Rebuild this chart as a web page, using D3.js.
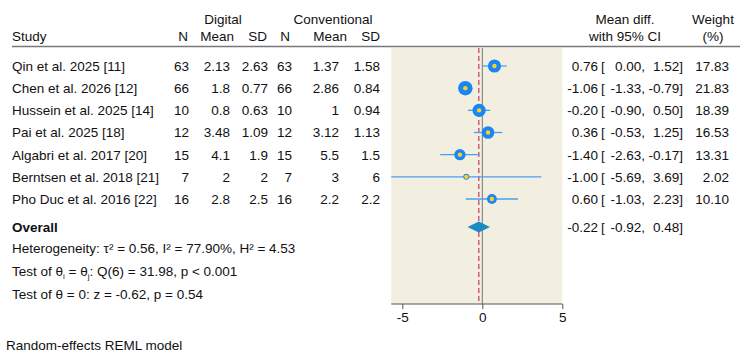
<!DOCTYPE html>
<html>
<head>
<meta charset="utf-8">
<script src="https://cdn.jsdelivr.net/npm/d3@7"></script>
<style>
  body { margin: 0; background: #fff; }
  svg text { font-family: "Liberation Sans", Arial, Helvetica, sans-serif; font-size: 13.5px; fill: #111; }
</style>
</head>
<body>
<svg id="chart" width="750" height="356"></svg>
<script>
  // study data
  var studies = ['Qin et al. 2025 [11]', 'Chen et al. 2026 [12]', 'Hussein et al. 2025 [14]',
    'Pai et al. 2025 [18]', 'Algabri et al. 2017 [20]', 'Berntsen et al. 2018 [21]', 'Pho Duc et al. 2016 [22]'];
  var digN = [63, 66, 10, 12, 15, 7, 16];
  var digMean = ['2.13', '1.8', '0.8', '3.48', '4.1', '2', '2.8'];
  var digSD = ['2.63', '0.77', '0.63', '1.09', '1.9', '2', '2.5'];
  var conN = [63, 66, 10, 12, 15, 7, 16];
  var conMean = ['1.37', '2.86', '1', '3.12', '5.5', '3', '2.2'];
  var conSD = ['1.58', '0.84', '0.94', '1.13', '1.5', '6', '2.2'];
  var meanDiff = [0.76, -1.06, -0.20, 0.36, -1.40, -1.00, 0.60];
  var ciLow = [0.00, -1.33, -0.90, -0.53, -2.63, -5.69, -1.03];
  var ciHigh = [1.52, -0.79, 0.50, 1.25, -0.17, 3.69, 2.23];
  var weights = [17.83, 21.83, 18.39, 16.53, 13.31, 2.02, 10.10];

  var overall = [-0.22, -0.92, 0.48];
  var xTicks = [-5, 0, 5];
  var statLines = ['Heterogeneity: \u03c4\u00b2 = 0.56, I\u00b2 = 77.90%, H\u00b2 = 4.53',
    'Q', 'Test of \u03b8 = 0: z = -0.62, p = 0.54'];

  var svg = d3.select('#chart');
  // plain hyphen for negatives, like the original
  var f2 = function (v) { return v.toFixed(2); };

  var x = d3.scaleLinear().domain([-5, 5]).range([402.3, 562.3]);
  var y = d3.scaleLinear().domain([0, studies.length - 1]).range([66, 199]);
  var r = d3.scaleSqrt().domain([0, 25]).range([0, 7.75]);

  var panelTop = 48, axisY = 304;
  var overallY = 227;

  // background panel
  svg.append('rect')
    .attr('x', x(d3.min(ciLow)))
    .attr('y', panelTop)
    .attr('width', x(5) - x(d3.min(ciLow)))
    .attr('height', axisY - panelTop)
    .attr('fill', '#f2efe1');

  // header
  var head = svg.append('g');
  head.append('text').attr('x', 223).attr('y', 24).attr('text-anchor', 'middle').text('Digital');
  head.append('text').attr('x', 333).attr('y', 24).attr('text-anchor', 'middle').text('Conventional');
  head.append('text').attr('x', 12).attr('y', 41).text('Study');
  var headX = [188, 234, 267, 290, 347, 380];
  ['N', 'Mean', 'SD', 'N', 'Mean', 'SD'].forEach(function (h, i) {
    head.append('text').attr('x', headX[i]).attr('y', 41).attr('text-anchor', 'end').text(h);
  });
  head.append('text').attr('x', 625).attr('y', 24).attr('text-anchor', 'middle').text('Mean diff.');
  head.append('text').attr('x', 625).attr('y', 41).attr('text-anchor', 'middle').text('with 95% CI');
  head.append('text').attr('x', 713).attr('y', 24).attr('text-anchor', 'middle').text('Weight');
  head.append('text').attr('x', 713).attr('y', 41).attr('text-anchor', 'middle').text('(%)');

  svg.append('line')
    .attr('x1', 12).attr('x2', 740).attr('y1', 46.5).attr('y2', 46.5)
    .attr('stroke', '#777').attr('stroke-width', 1.5);

  // table rows
  var cols = [digN, digMean, digSD, conN, conMean, conSD];
  var colX = [189, 230, 268, 292, 339, 380];
  var rows = svg.append('g').selectAll('g').data(studies).join('g')
    .attr('transform', function (d, i) { return 'translate(0,' + y(i) + ')'; });

  rows.append('text').attr('x', 12).attr('dy', '0.36em').text(function (d) { return d; });
  cols.forEach(function (col, c) {
    rows.append('text').attr('x', colX[c]).attr('dy', '0.36em').attr('text-anchor', 'end')
      .text(function (d, i) { return col[i]; });
  });

  function ciText(g, est, lo, hi) {
    g.append('text').attr('x', 598).attr('dy', '0.36em').attr('text-anchor', 'end').text(f2(est));
    g.append('text').attr('x', 601).attr('dy', '0.36em').text('[');
    g.append('text').attr('x', 645).attr('dy', '0.36em').attr('text-anchor', 'end').text(f2(lo) + ',');
    g.append('text').attr('x', 683).attr('dy', '0.36em').attr('text-anchor', 'end').text(f2(hi) + ']');
  }
  rows.each(function (d, i) {
    var g = d3.select(this);
    ciText(g, meanDiff[i], ciLow[i], ciHigh[i]);
    g.append('text').attr('x', 729).attr('dy', '0.36em').attr('text-anchor', 'end').text(f2(weights[i]));
  });

  // overall row
  var ov = svg.append('g').attr('transform', 'translate(0,' + overallY + ')');
  ov.append('text').attr('x', 12).attr('dy', '0.36em').attr('font-weight', 'bold').text('Overall');
  ciText(ov, overall[0], overall[1], overall[2]);

  // stats lines
  var statY = [248, 271, 294];
  statLines.forEach(function (s, i) {
    var t = svg.append('text').attr('x', 12).attr('y', statY[i]).attr('dy', '0.36em');
    if (s === 'Q') {
      t.append('tspan').text('Test of \u03b8');
      t.append('tspan').attr('font-size', '8px').attr('dy', '3').text('i');
      t.append('tspan').attr('dy', '-3').text(' = \u03b8');
      t.append('tspan').attr('font-size', '8px').attr('dy', '3').text('j');
      t.append('tspan').attr('dy', '-3').text(': Q(6) = 31.98, p < 0.001');
    } else {
      t.text(s);
    }
  });

  svg.append('text').attr('x', 6).attr('y', 345).attr('dy', '0.36em').text('Random-effects REML model');

  // reference lines
  svg.append('line')
    .attr('x1', x(0)).attr('x2', x(0)).attr('y1', panelTop).attr('y2', axisY)
    .attr('stroke', '#777').attr('stroke-width', 1);
  svg.append('line')
    .attr('x1', x(overall[0])).attr('x2', x(overall[0])).attr('y1', panelTop).attr('y2', axisY)
    .attr('stroke', '#d0607a').attr('stroke-width', 1.5).attr('stroke-dasharray', '5,3');

  // CIs and markers
  var marks = svg.append('g').selectAll('g').data(meanDiff).join('g')
    .attr('transform', function (d, i) { return 'translate(0,' + y(i) + ')'; });
  marks.append('line')
    .attr('x1', function (d, i) { return x(ciLow[i]); })
    .attr('x2', function (d, i) { return x(ciHigh[i]); })
    .attr('stroke', '#4a9ef5').attr('stroke-width', 1.3);
  marks.append('circle')
    .attr('cx', function (d) { return x(d); })
    .attr('r', function (d, i) { return Math.max(3, r(weights[i])); })
    .attr('fill', '#1a86f5');
  marks.append('circle')
    .attr('cx', function (d) { return x(d); })
    .attr('r', 2.2)
    .attr('fill', '#ffd21f');

  // overall diamond
  svg.append('path')
    .attr('d', 'M' + x(overall[1]) + ',' + overallY +
      'L' + x(overall[0]) + ',' + (overallY - 5.5) +
      'L' + x(overall[2]) + ',' + overallY +
      'L' + x(overall[0]) + ',' + (overallY + 5.5) + 'Z')
    .attr('fill', '#1a8bc4');

  // x axis
  var axis = svg.append('g')
    .attr('transform', 'translate(0,' + axisY + ')')
    .call(d3.axisBottom(x).tickValues(xTicks).tickSize(5).tickPadding(3)
      .tickFormat(function (d) { return String(d); }));
  axis.select('.domain')
    .attr('d', 'M' + x(d3.min(ciLow)) + ',0H' + x(5))
    .attr('stroke', '#555');
  axis.selectAll('.tick line').attr('stroke', '#555');
  axis.selectAll('.tick text').attr('font-size', '13.5px').attr('font-family', null).attr('fill', '#111');
</script>
</body>
</html>
